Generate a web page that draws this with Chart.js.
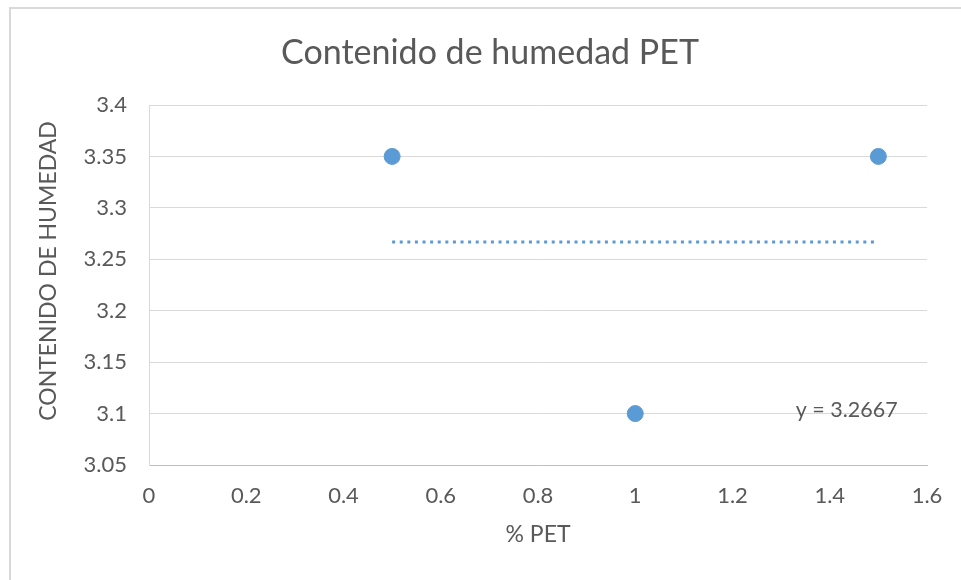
<!DOCTYPE html>
<html>
<head>
<meta charset="utf-8">
<script src="https://cdn.jsdelivr.net/npm/chart.js@4/dist/chart.umd.min.js"></script>
<style>
  html, body { margin: 0; padding: 0; background: #ffffff; }
  #wrap { position: relative; width: 961px; height: 580px; overflow: hidden; }
  #frame { position: absolute; left: 9px; top: 7px; width: 1000px; height: 1000px;
           border-left: 2px solid #d9d9d9; border-top: 2px solid #d9d9d9; pointer-events: none; }
  canvas { position: absolute; left: 0; top: 0; }
</style>
</head>
<body>
<div id="wrap">
  <canvas id="chart" width="961" height="580"></canvas>
  <div id="frame"></div>
</div>
<script>
// Moisture content measured for each PET percentage
const petPercent = [0.5, 1, 1.5];
const moisture = [3.35, 3.1, 3.35];

// Constant trend line (mean of the samples) and where its equation is written
const trendValue = 3.2667;
const trendRange = [0.5, 1.5];
const trendLabelAt = [1.33, 3.1035];

// Axis tick labels
const xTickLabels = ['0', '0.2', '0.4', '0.6', '0.8', '1', '1.2', '1.4', '1.6'];
const yTickLabels = ['3.05', '3.1', '3.15', '3.2', '3.25', '3.3', '3.35', '3.4'];

const chartTitle = 'Contenido de humedad PET';
const yTitle = 'CONTENIDO DE HUMEDAD';

const FONT = 'Lato, "Open Sans", sans-serif';
const TEXT = '#595959';
const BLUE = '#5b9bd5';

const points = petPercent.map((x, i) => ({ x: x, y: moisture[i] }));
const trend = trendRange.map(x => ({ x: x, y: trendValue }));

// Chart title, vertical axis title and the trend line equation
const textPlugin = {
  id: 'chartText',
  afterDraw(chart) {
    const { ctx, scales } = chart;
    ctx.save();
    ctx.fillStyle = TEXT;
    ctx.textBaseline = 'middle';

    ctx.font = '34px ' + FONT;
    ctx.textAlign = 'center';
    ctx.fillText(chartTitle, 490, 53);

    ctx.save();
    ctx.font = '23px ' + FONT;
    ctx.translate(49, 271);
    ctx.rotate(-Math.PI / 2);
    ctx.fillText(yTitle, 0, 0);
    ctx.restore();

    const px = scales.x.getPixelForValue(trendLabelAt[0]);
    const py = scales.y.getPixelForValue(trendLabelAt[1]);
    ctx.font = '21.5px ' + FONT;
    ctx.textAlign = 'left';
    ctx.fillText('y = ' + trendValue, px, py);
    ctx.restore();
  }
};

new Chart(document.getElementById('chart'), {
  type: 'scatter',
  data: {
    datasets: [
      {
        label: 'Contenido de humedad',
        data: points,
        backgroundColor: BLUE,
        borderColor: BLUE,
        pointRadius: 8,
        pointHoverRadius: 8,
        order: 1
      },
      {
        type: 'line',
        label: 'Tendencia',
        data: trend,
        borderColor: BLUE,
        borderWidth: 3,
        borderDash: [3, 4.6],
        pointRadius: 0,
        fill: false,
        order: 2
      }
    ]
  },
  options: {
    responsive: false,
    animation: false,
    events: [],
    layout: { padding: { left: 0, right: 34, top: 105, bottom: 0 } },
    plugins: {
      legend: { display: false },
      tooltip: { enabled: false },
      title: { display: false }
    },
    scales: {
      x: {
        type: 'linear',
        min: 0,
        max: 1.6,
        ticks: {
          stepSize: 0.2,
          color: TEXT,
          font: { family: FONT, size: 22 },
          padding: 18,
          maxRotation: 0,
          callback: (v, i) => xTickLabels[i]
        },
        grid: { display: false, drawTicks: false },
        border: { display: true, color: '#bfbfbf', width: 1 },
        title: {
          display: true,
          text: '% PET',
          color: TEXT,
          font: { family: FONT, size: 23 },
          padding: { top: 0, bottom: 32 }
        },
        afterFit(scale) { scale.height = 115; }
      },
      y: {
        type: 'linear',
        min: 3.05,
        max: 3.4,
        ticks: {
          stepSize: 0.05,
          color: TEXT,
          font: { family: FONT, size: 22 },
          padding: 22,
          callback: (v, i) => yTickLabels[i]
        },
        grid: { color: '#d9d9d9', lineWidth: 1, drawTicks: false },
        border: { display: true, color: '#d9d9d9', width: 1 },
        afterFit(scale) { scale.width = 149; }
      }
    }
  },
  plugins: [textPlugin]
});
</script>
</body>
</html>
